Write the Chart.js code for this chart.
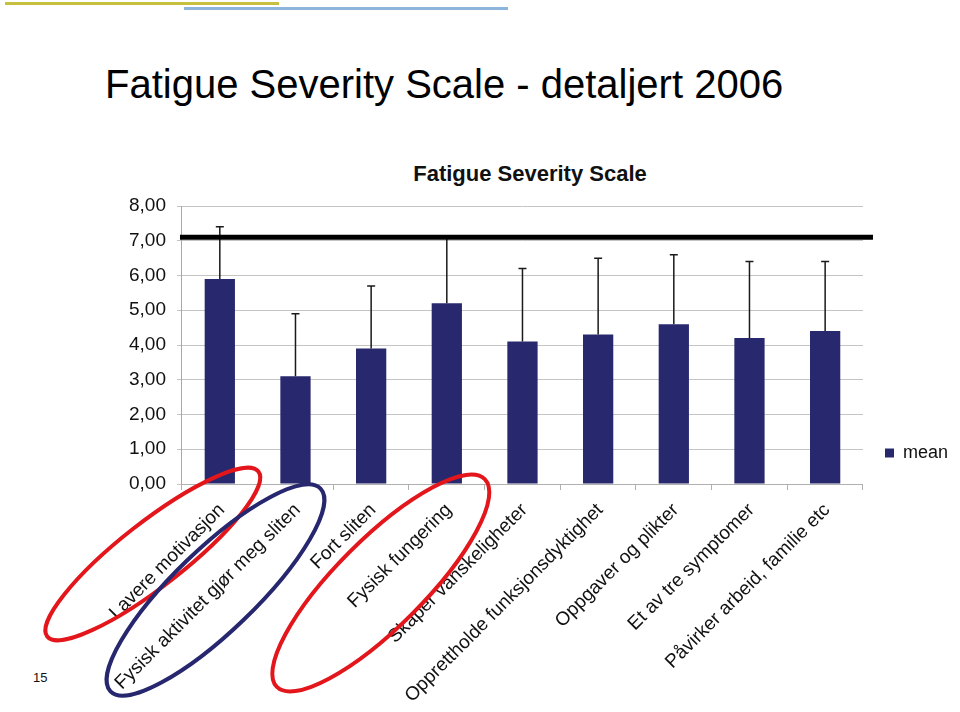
<!DOCTYPE html>
<html>
<head>
<meta charset="utf-8">
<script src="https://cdn.jsdelivr.net/npm/chart.js@4.4.1/dist/chart.umd.min.js"></script>
<style>
    body { margin: 0; background: #fff; font-family: "Liberation Sans", Arial, sans-serif; }
    #page { position: relative; width: 960px; height: 712px; overflow: hidden; }
    .deco { position: absolute; }
    #slideTitle { position: absolute; left: 105px; top: 62px; font-size: 40px; color: #000; white-space: nowrap; }
    #chartTitle { position: absolute; left: 330px; width: 400px; top: 161px; text-align: center; font-size: 22px; font-weight: bold; color: #111; }
    #pageNum { position: absolute; left: 33px; top: 670px; font-size: 13px; color: #111; }
    #fss { position: absolute; left: 0; top: 0; }
</style>
</head>
<body>
<div id="page">
    <div class="deco" style="left:5px;top:2px;width:274px;height:3px;background:#c6c03e;"></div>
    <div class="deco" style="left:184px;top:7px;width:324px;height:3px;background:#8db5dc;"></div>
    <div id="slideTitle">Fatigue Severity Scale - detaljert 2006</div>
    <div id="chartTitle">Fatigue Severity Scale</div>
    <div id="pageNum">15</div>
    <canvas id="fss" width="960" height="712"></canvas>
</div>

<script>
const categories = [
    'Lavere motivasjon',
    'Fysisk aktivitet gjør meg sliten',
    'Fort sliten',
    'Fysisk fungering',
    'Skaper vanskeligheter',
    'Opprettholde funksjonsdyktighet',
    'Oppgaver og plikter',
    'Et av tre symptomer',
    'Påvirker arbeid, familie etc'
]
const means = [5.9, 3.1, 3.9, 5.2, 4.1, 4.3, 4.6, 4.2, 4.4]
const sd = [1.5, 1.8, 1.8, 1.9, 2.1, 2.2, 2.0, 2.2, 2.0]
const threshold = 7.1
const yTicks = [0, 1, 2, 3, 4, 5, 6, 7, 8]

// ringer rundt utvalgte kategorier (forankret i x-aksen)
const rings = [
    { index: 0, dx: -67, dy: 70, a: 134, b: 32, angle: -38, color: '#e3161b' },
    { index: 1, dx: -80, dy: 106, a: 146, b: 41, angle: -44, color: '#27276f' },
    { index: 3, dx: -66, dy: 99, a: 147, b: 44, angle: -45, color: '#e3161b' }
]

const barColor = '#28286e'

const errorBars = {
    id: 'errorBars',
    afterDatasetsDraw(chart) {
        const ctx = chart.ctx
        const y = chart.scales.y
        const meta = chart.getDatasetMeta(0)
        ctx.save()
        ctx.strokeStyle = '#1a1a1a'
        ctx.lineWidth = 1.5
        meta.data.forEach((bar, i) => {
            const top = y.getPixelForValue(means[i] + sd[i])
            const base = y.getPixelForValue(means[i])
            ctx.beginPath()
            ctx.moveTo(bar.x, base)
            ctx.lineTo(bar.x, top)
            ctx.moveTo(bar.x - 4, top)
            ctx.lineTo(bar.x + 4, top)
            ctx.stroke()
        })
        // svart referanselinje
        const ty = y.getPixelForValue(threshold)
        ctx.strokeStyle = '#000'
        ctx.lineWidth = 5
        ctx.beginPath()
        ctx.moveTo(chart.chartArea.left - 2, ty)
        ctx.lineTo(chart.chartArea.right + 10, ty)
        ctx.stroke()
        ctx.restore()
    }
}

const ringPlugin = {
    id: 'rings',
    afterDraw(chart) {
        const ctx = chart.ctx
        const x = chart.scales.x
        const base = chart.chartArea.bottom
        ctx.save()
        ctx.lineWidth = 4
        rings.forEach(r => {
            ctx.strokeStyle = r.color
            ctx.beginPath()
            ctx.ellipse(x.getPixelForValue(r.index) + r.dx, base + r.dy, r.a, r.b, r.angle * Math.PI / 180, 0, Math.PI * 2)
            ctx.stroke()
        })
        ctx.restore()
    }
}

window.addEventListener('load', function() {
    const ctx = document.getElementById('fss').getContext('2d')
    new Chart(ctx, {
        type: 'bar',
        data: {
            labels: categories,
            datasets: [{
                label: 'mean',
                data: means,
                backgroundColor: barColor,
                borderWidth: 0,
                barPercentage: 0.4,
                categoryPercentage: 1.0
            }]
        },
        options: {
            responsive: false,
            animation: false,
            layout: { padding: { top: 206, left: 118, right: 2, bottom: 10 } },
            plugins: {
                title: { display: false },
                tooltip: { enabled: false },
                legend: {
                    position: 'right',
                    align: 'end',
                    fullSize: false,
                    labels: {
                        boxWidth: 9,
                        boxHeight: 9,
                        padding: 22,
                        color: '#111',
                        font: { family: 'Liberation Sans', size: 18 }
                    }
                }
            },
            scales: {
                y: {
                    min: 0,
                    max: 8,
                    afterBuildTicks: axis => { axis.ticks = yTicks.map(v => ({ value: v })) },
                    ticks: {
                        color: '#111',
                        padding: 11,
                        font: { family: 'Liberation Sans', size: 19 },
                        callback: v => v.toFixed(2).replace('.', ',')
                    },
                    grid: { color: '#c4c4c4', tickLength: 5 },
                    border: { color: '#a8a8a8' }
                },
                x: {
                    afterFit: axis => {
                        axis.height = 218
                        axis.paddingLeft = 0
                        axis.paddingRight = 0
                    },
                    ticks: {
                        color: '#111',
                        maxRotation: 45,
                        minRotation: 45,
                        padding: 9,
                        labelOffset: 2,
                        font: { family: 'Liberation Sans', size: 19 }
                    },
                    grid: { offset: true, drawOnChartArea: false, tickLength: 6, color: '#b0b0b0' },
                    border: { color: '#b0b0b0' }
                }
            }
        },
        plugins: [errorBars, ringPlugin]
    })
})
</script>
</body>
</html>
